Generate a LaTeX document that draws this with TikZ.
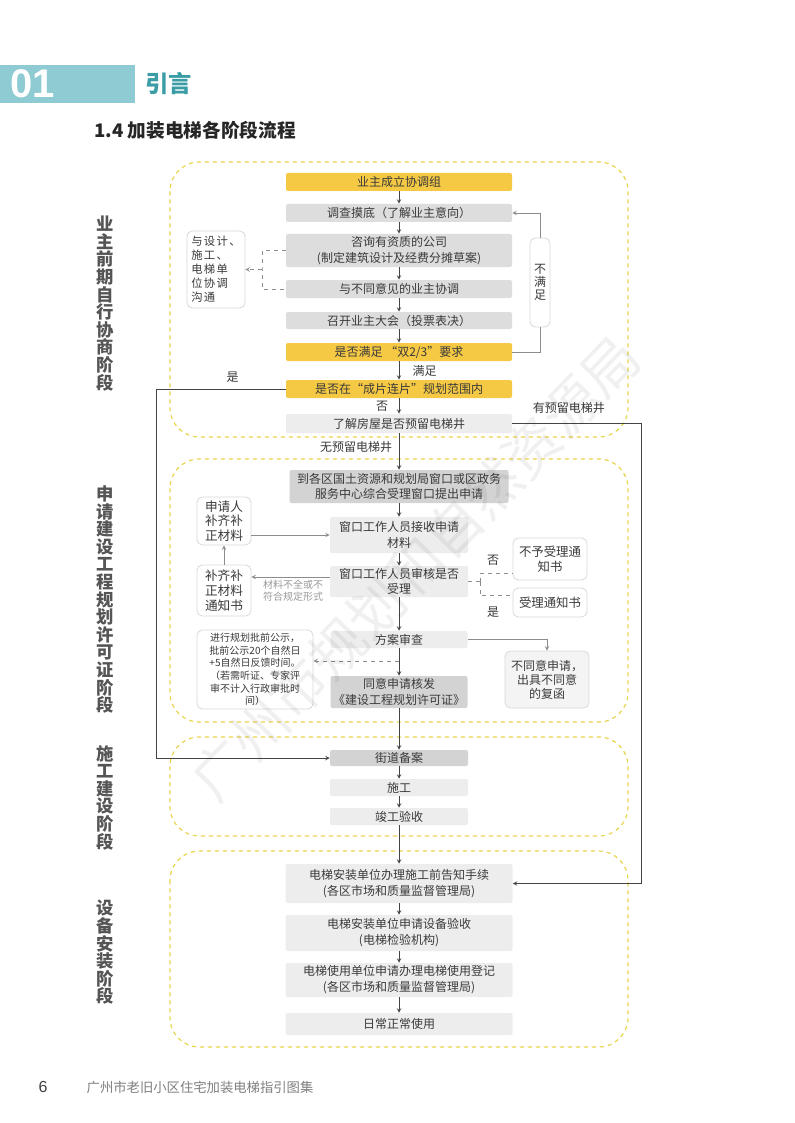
\documentclass[tikz,border=0pt]{standalone}
\usepackage{fontspec}
\setmainfont{Noto Sans CJK SC}
\newfontfamily\latinb{Liberation Sans}
\definecolor{txt}{HTML}{3A3A3A}
\definecolor{ylw}{HTML}{F5C944}
\definecolor{boxgray}{HTML}{DDDDDD}
\definecolor{boxdark}{HTML}{D3D3D3}
\definecolor{boxlight}{HTML}{EDEDED}
\definecolor{noteline}{HTML}{DADADA}
\definecolor{frameylw}{HTML}{E8D54E}
\definecolor{arrowc}{HTML}{444444}
\definecolor{linegray}{HTML}{8C8C8C}
\definecolor{stagec}{HTML}{555555}
\definecolor{headteal}{HTML}{8FCBD3}
\definecolor{tealtxt}{HTML}{3A9CA5}
\begin{document}
\begin{tikzpicture}[x=0.75pt, y=-0.75pt, >=stealth,
    every node/.style={font=\fontsize{9}{11.5}\selectfont, text=txt},
    box/.style={rectangle, rounded corners=1.5pt, inner sep=0pt, align=center, fill=boxgray},
    ybox/.style={box, fill=ylw},
    dbox/.style={box, fill=boxdark},
    lbox/.style={box, fill=boxlight},
    note/.style={rectangle, rounded corners=4pt, draw=noteline, fill=white, line width=0.6pt, inner sep=0pt, align=center},
    frame/.style={draw=frameylw, dashed, line width=0.9pt, rounded corners=22pt},
    flow/.style={->, draw=arrowc, line width=0.5pt},
    flowg/.style={draw=linegray, line width=0.5pt},
    dashg/.style={draw=linegray, dashed, line width=0.5pt},
    stage/.style={font=\fontsize{13}{13.2}\selectfont\bfseries, text=stagec, align=center},
    lbl/.style={font=\fontsize{9}{11}\selectfont, inner sep=1pt}]
  \useasboundingbox (0,0) rectangle (794,1123);
  \fill[white] (0,0) rectangle (794,1123);

  % header
  \fill[headteal] (0,65) rectangle (135,103);
  \node[font=\latinb\fontsize{30}{30}\selectfont\bfseries, text=white] (num) at (33,84) {01};
  \node[font=\fontsize{17.5}{17.5}\selectfont\bfseries, text=tealtxt] (chap) at (168.5,83.5) {引言};
  \node[font=\fontsize{14}{14}\selectfont\bfseries, text=black!85] (title) at (195,130) {1.4 加装电梯各阶段流程};

  % stage frames
  \draw[frame] (170,162) rectangle (628,437);
  \draw[frame] (170,459) rectangle (628,722);
  \draw[frame] (170,737) rectangle (628,836);
  \draw[frame] (170,851) rectangle (628,1047);

  % stage labels
  \node[stage] (st1) at (105,303.5) {业\\主\\前\\期\\自\\行\\协\\商\\阶\\段};
  \node[stage] (st2) at (105,599.5) {申\\请\\建\\设\\工\\程\\规\\划\\许\\可\\证\\阶\\段};
  \node[stage] (st3) at (105,797.5) {施\\工\\建\\设\\阶\\段};
  \node[stage] (st4) at (105,952.5) {设\\备\\安\\装\\阶\\段};

  % stage 1
  \node[ybox, minimum width=169.5pt, minimum height=13.5pt] (n1) at (399,182) {业主成立协调组};
  \node[box, minimum width=169.5pt, minimum height=13.5pt] (n2) at (399,213) {调查摸底（了解业主意向）};
  \node[box, minimum width=169.5pt, minimum height=24.75pt, font=\fontsize{9}{12.5}\selectfont] (n3) at (399,250.5) {咨询有资质的公司\\(制定建筑设计及经费分摊草案)};
  \node[box, minimum width=169.5pt, minimum height=13.5pt] (n4) at (399,289) {与不同意见的业主协调};
  \node[box, minimum width=169.5pt, minimum height=12.75pt] (n5) at (399,320.5) {召开业主大会（投票表决）};
  \node[ybox, minimum width=169.5pt, minimum height=13.5pt] (n6) at (399,352) {是否满足 “双2/3”要求};
  \node[ybox, minimum width=169.5pt, minimum height=13.5pt] (n7) at (399,389) {是否在“成片连片”规划范围内};
  \node[lbox, minimum width=169.5pt, minimum height=14.25pt] (n8) at (399,423.5) {了解房屋是否预留电梯井};
  \node[note, minimum width=43.5pt, minimum height=57.75pt, align=left, font=\fontsize{8.5}{10.5}\selectfont\addfontfeature{LetterSpace=12}] (side1) at (216,269.5) {与设计、\\施工、\\电梯单\\位协调\\沟通};
  \node[note, minimum width=15pt, minimum height=66.75pt, font=\fontsize{9}{10}\selectfont] (nosat) at (540,282.5) {不\\满\\足};

  \draw[flow] (n1) -- (n2);
  \draw[flow] (n2) -- (n3);
  \draw[flow] (n3) -- (n4);
  \draw[flow] (n4) -- (n5);
  \draw[flow] (n5) -- (n6);
  \draw[flow] (n6) -- node[lbl, right=9pt] {满足} (n7);
  \draw[flow] (n7) -- node[lbl, left=7pt] {否} (n8);
  \draw[flowg] (n6.east) -| (nosat.south);
  \draw[flowg, ->] (nosat.north) |- (n2.east);
  \coordinate (j1) at (262,269.5);
  \draw[dashg] (n3.west) -| (j1) |- (n4.west);
  \draw[dashg, ->] (j1) -- (side1.east);

  % stage 2
  \node[dbox, minimum width=164.25pt, minimum height=24.75pt] (n9) at (399,486.5) {到各区国土资源和规划局窗口或区政务\\服务中心综合受理窗口提出申请};
  \node[lbox, minimum width=103.5pt, minimum height=27pt] (n10) at (399,535) {窗口工作人员接收申请\\材料};
  \node[lbox, minimum width=103.5pt, minimum height=23.25pt] (n11) at (399,581.5) {窗口工作人员审核是否\\受理};
  \node[note, minimum width=40.5pt, minimum height=36pt, font=\fontsize{9.5}{11}\selectfont] (a1) at (224,521) {申请人\\补齐补\\正材料};
  \node[note, minimum width=40.5pt, minimum height=38.25pt, font=\fontsize{9.5}{11}\selectfont] (a2) at (224,590.5) {补齐补\\正材料\\通知书};
  \node[note, minimum width=55.5pt, minimum height=31.5pt, font=\fontsize{9.3}{11.5}\selectfont] (r1) at (550,559) {不予受理通\\知书};
  \node[note, minimum width=55.5pt, minimum height=21.75pt, font=\fontsize{9.3}{11.5}\selectfont] (r2) at (550,602.5) {受理通知书};
  \node[lbox, minimum width=102.75pt, minimum height=12.75pt] (n12) at (399,639.5) {方案审查};
  \node[dbox, minimum width=102.75pt, minimum height=24pt] (n13) at (399,692) {同意申请核发\\《建设工程规划许可证》};
  \node[note, minimum width=87pt, minimum height=59.25pt, font=\fontsize{7.5}{9.5}\selectfont] (b1) at (255,669.5) {进行规划批前公示，\\批前公示20个自然日\\+5自然日反馈时间。\\（若需听证、专家评\\审不计入行政审批时\\间）};
  \node[note, fill=boxlight!60, minimum width=63pt, minimum height=42.75pt, font=\fontsize{9}{10.5}\selectfont] (b2) at (547,679.5) {不同意申请，\\出具不同意\\的复函};
  \node[font=\fontsize{7.5}{9}\selectfont, text=black!40, align=left, inner sep=0pt] (cond) at (293,591) {材料不全或不\\符合规定形式};

  \draw[flow] (n8) -- node[lbl, pos=0.38, left=4pt] {无预留电梯井} (n9);
  \draw[flow] (n9) -- (n10);
  \draw[flow] (n10) -- (n11);
  \draw[flowg, ->] (a1.east |- n10.west) -- (n10.west);
  \draw[flowg, ->] (a2) -- (a1);
  \draw[flowg, ->] ([yshift=3.4pt]n11.west) -- ([yshift=3.4pt]n11.west -| a2.east);
  \coordinate (s1) at (480,581.5);
  \draw[dashg] (n11.east) -- (s1);
  \draw[dashg] (s1) |- ([yshift=5pt]r1.south west);
  \draw[dashg] (s1) |- ([yshift=-6pt]r2.north west);
  \node[lbl] (no2) at (493,560) {否};
  \node[lbl] (yes2) at (493,612) {是};
  \draw[flow] (n11) -- (n12);
  \draw[flowg, ->] (n12.east) -| (b2.north);
  \draw[flow] (n12) -- (n13);
  \coordinate (m1) at (399,661);
  \draw[dashg, ->] (m1) -- (m1 -| b1.east);

  % stage 3
  \node[dbox, minimum width=103.5pt, minimum height=12pt] (n14) at (399,758) {街道备案};
  \node[lbox, minimum width=103.5pt, minimum height=12.75pt] (n15) at (399,787.5) {施工};
  \node[lbox, minimum width=103.5pt, minimum height=12.75pt] (n16) at (399,816.5) {竣工验收};
  \draw[flow] (n13) -- (n14);
  \draw[flow] (n14) -- (n15);
  \draw[flow] (n15) -- (n16);

  % stage 4
  \node[lbox, minimum width=170.25pt, minimum height=29.25pt, font=\fontsize{9}{12}\selectfont] (n17) at (399,883.5) {电梯安装单位办理施工前告知手续\\(各区市场和质量监督管理局)};
  \node[lbox, minimum width=170.25pt, minimum height=27pt, font=\fontsize{9}{12}\selectfont] (n18) at (399,933) {电梯安装单位申请设备验收\\(电梯检验机构)};
  \node[lbox, minimum width=170.25pt, minimum height=25.5pt, font=\fontsize{9}{12}\selectfont] (n19) at (399,980) {电梯使用单位申请办理电梯使用登记\\(各区市场和质量监督管理局)};
  \node[lbox, minimum width=170.25pt, minimum height=16.5pt] (n20) at (399,1024) {日常正常使用};
  \draw[flow] (n16) -- (n17);
  \draw[flow] (n17) -- (n18);
  \draw[flow] (n18) -- (n19);
  \draw[flow] (n19) -- (n20);

  % long side connectors
  \coordinate (lft) at (156,389);
  \draw[flow] (n7.west) -- node[lbl, pos=0.41, above=4pt] {是} (lft) |- (n14.west);
  \coordinate (rgt) at (641,423.5);
  \draw[flow] (n8.east) -- node[lbl, pos=0.44, above=6pt] {有预留电梯井} (rgt) |- (n17.east);

  % watermark and footer
  \node[rotate=46, text=black, opacity=0.06, font=\fontsize{42}{42}\selectfont] (wm) at (415,568) {广州市规划和自然资源局};
  \node[font=\latinb\fontsize{12}{12}\selectfont, text=black!75] (pg) at (43,1087) {6};
  \node[font=\fontsize{10}{10}\selectfont, text=black!50] (foot) at (200,1087) {广州市老旧小区住宅加装电梯指引图集};
\end{tikzpicture}
\end{document}
